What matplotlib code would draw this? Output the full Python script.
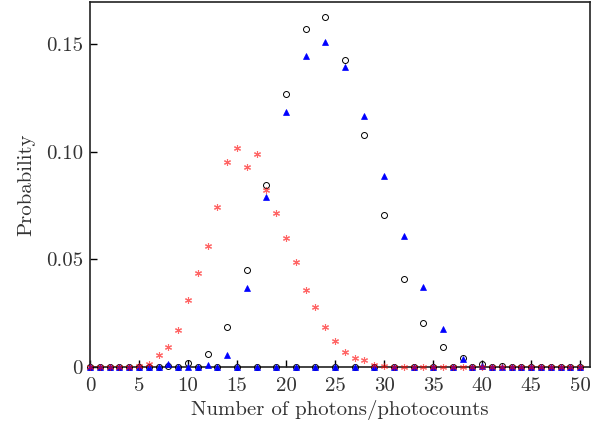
import matplotlib
matplotlib.use("Agg")
import matplotlib.pyplot as plt
import numpy as np

plt.rcParams['font.family'] = ['cmr10', 'DejaVu Serif']
plt.rcParams['mathtext.fontset'] = 'cm'
plt.rcParams['axes.formatter.use_mathtext'] = True

n = list(range(51))

circles = [0, 0, 0, 0, 0, 0, 0, 0, 0.0003, 0,
           0.0017, 0, 0.0059, 0, 0.0187, 0, 0.0451, 0, 0.0845, 0,
           0.1269, 0, 0.1568, 0, 0.1624, 0, 0.1427, 0, 0.1078, 0,
           0.0707, 0, 0.0407, 0, 0.0206, 0, 0.0093, 0, 0.0040, 0,
           0.0015, 0, 0.0004, 0, 0, 0, 0, 0, 0, 0,
           0]

triangles = [0, 0, 0, 0, 0, 0, 0, 0, 0.0014, 0,
             0, 0, 0.0008, 0, 0.0057, 0, 0.0367, 0, 0.0788, 0,
             0.1186, 0, 0.1446, 0, 0.1511, 0, 0.1395, 0, 0.1167, 0,
             0.0889, 0, 0.0610, 0, 0.0370, 0, 0.0176, 0, 0.0037, 0,
             0.0004, 0, 0, 0, 0, 0, 0, 0, 0, 0,
             0]

stars = [0, 0, 0, 0, 0, 0.0003, 0.0013, 0.0054, 0.0094, 0.0170,
         0.0310, 0.0435, 0.0562, 0.0742, 0.0951, 0.1016, 0.0928, 0.0988, 0.0822, 0.0714,
         0.0599, 0.0488, 0.0356, 0.0277, 0.0184, 0.0119, 0.0069, 0.0040, 0.0031, 0.0010,
         0.0006, 0, 0, 0, 0, 0, 0, 0, 0, 0,
         0, 0, 0, 0, 0, 0, 0, 0, 0, 0,
         0]

xticks = [0, 5, 10, 15, 20, 25, 30, 35, 40, 45, 50]
yticks = [0, 0.05, 0.10, 0.15]
ytick_labels = ["0", "0.05", "0.10", "0.15"]

fig = plt.figure(figsize=(6.11, 4.29), dpi=100)
ax = fig.add_axes([0.1473, 0.1445, 0.8183, 0.8508])

ax.plot(n, circles, linestyle='none', marker='o', markersize=4.3,
        markerfacecolor='none', markeredgecolor='black', markeredgewidth=0.7,
        clip_on=False, zorder=3)
ax.plot(n, triangles, linestyle='none', marker='^', markersize=5,
        markerfacecolor='blue', markeredgecolor='blue', markeredgewidth=0.5,
        clip_on=False, zorder=4)
ax.plot(n, stars, linestyle='none', marker=(6, 2, 0), markersize=5,
        markeredgecolor='red', markeredgewidth=0.8, alpha=0.6,
        clip_on=False, zorder=5)

ax.set_xlim(0, 51)
ax.set_ylim(0, 0.1695)
ax.set_xticks(xticks)
ax.set_xticklabels([str(t) for t in xticks])
ax.set_yticks(yticks)
ax.set_yticklabels(ytick_labels)
ax.tick_params(direction='in', length=5, width=1.0, labelsize=15,
               top=False, right=False)
ax.tick_params(axis='x', pad=7)
ax.tick_params(axis='y', pad=5)
for s in ax.spines.values():
    s.set_linewidth(1.2)
    s.set_color('#222222')

ax.set_xlabel("Number of photons/photocounts", fontsize=15, labelpad=4, color='#333333')
ax.set_ylabel("Probability", fontsize=15, labelpad=8, color='#333333')
for lbl in ax.get_xticklabels() + ax.get_yticklabels():
    lbl.set_color('#333333')

fig.savefig("out.png", dpi=100)
